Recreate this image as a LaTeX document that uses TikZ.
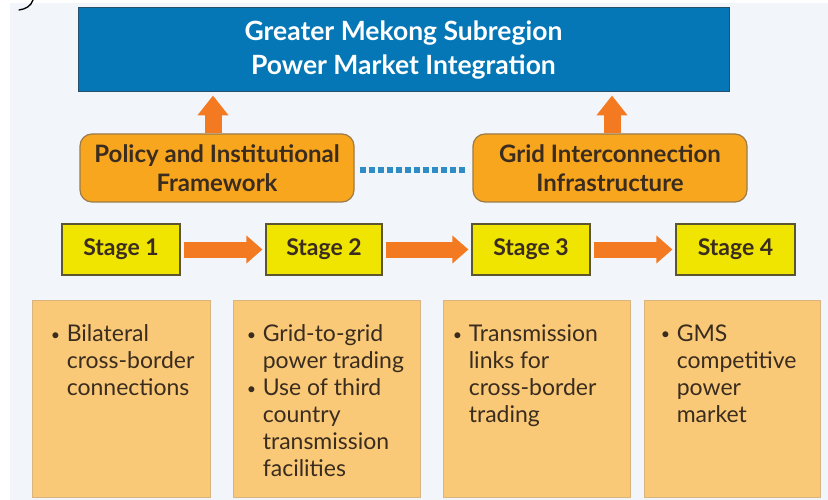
\documentclass[tikz,border=0pt]{standalone}
\usepackage{fontspec}
\setmainfont{Lato}
\usetikzlibrary{arrows.meta}
\definecolor{bgc}{HTML}{F2F6FB}
\definecolor{titleblue}{HTML}{0677B6}
\definecolor{titleedge}{HTML}{24506E}
\definecolor{pillfill}{HTML}{F8A61E}
\definecolor{pilledge}{HTML}{9A7A48}
\definecolor{stagefill}{HTML}{F0E500}
\definecolor{stageedge}{HTML}{5B5530}
\definecolor{arroworange}{HTML}{F47A22}
\definecolor{notefill}{HTML}{F9C978}
\definecolor{noteedge}{HTML}{D9B47E}
\definecolor{dotblue}{HTML}{2F8CC4}
\definecolor{darktext}{HTML}{3A2C1E}
\newcommand\bfirst[1]{\makebox[16pt][l]{\raisebox{1.5pt}{\fontsize{16}{16}\selectfont\textbullet}}#1}
\newcommand\bnext[1]{\hspace*{16pt}#1}
\begin{document}
\begin{tikzpicture}[x=1pt,y=-1pt,
  titlebox/.style={draw=titleedge, line width=1pt, fill=titleblue, minimum width=651pt, minimum height=84pt, inner sep=0pt,
    text=white, align=center, font=\fontsize{26.5}{34}\selectfont\bfseries},
  pillbox/.style={draw=pilledge, line width=1.2pt, fill=pillfill, rounded corners=12pt, minimum width=274pt, minimum height=68pt,
    inner sep=0pt, text=darktext, align=center, font=\fontsize{24}{29}\selectfont\bfseries},
  stagebox/.style={draw=stageedge, line width=1.2pt, fill=stagefill, minimum height=51pt, inner sep=0pt,
    text=darktext, font=\fontsize{23}{26}\selectfont\bfseries},
  notebox/.style={draw=noteedge, line width=0.8pt, fill=notefill, minimum height=197pt, inner sep=0pt},
  notetext/.style={anchor=north west, inner sep=0pt, align=left, text=darktext, font=\fontsize{23}{27}\selectfont},
  uparrow/.style={draw=arroworange, line width=17pt, -{Triangle[width=30pt,length=20pt]}, shorten >=3pt},
  rightarrow/.style={draw=arroworange, line width=16pt, -{Triangle[width=27pt,length=16pt]}, shorten >=3pt, shorten <=3pt},
  linkline/.style={draw=dotblue, line width=6pt, dash pattern=on 6pt off 3pt}
]
\useasboundingbox (0,0) rectangle (828,500);
\fill[white] (0,0) rectangle (828,500);
\fill[bgc] (10,3) rectangle (828,500);
\draw[line width=1.3pt, line cap=round] (33,0) .. controls (31,6) and (26,9) .. (19,10);

\node[titlebox] (title) at (403.5,50) {Greater Mekong Subregion\\Power Market Integration};

\node[pillbox] (policy) at (217,168) {Policy and Institutional\\Framework};
\node[pillbox] (grid) at (610,168) {Grid Interconnection\\Infrastructure};

\node[stagebox, minimum width=118pt] (s1) at (121,249.5) {Stage 1};
\node[stagebox, minimum width=116pt] (s2) at (324,249.5) {Stage 2};
\node[stagebox, minimum width=118pt] (s3) at (531,249.5) {Stage 3};
\node[stagebox, minimum width=119pt] (s4) at (735.5,249.5) {Stage 4};

\node[notebox, minimum width=178pt] (b1) at (121,398.5) {};
\node[notebox, minimum width=187pt] (b2) at (326.5,398.5) {};
\node[notebox, minimum width=187pt] (b3) at (536.5,398.5) {};
\node[notebox, minimum width=176pt] (b4) at (732,398.5) {};

\node[notetext] (t1) at ([xshift=19pt,yshift=-25pt]b1.north west) {\bfirst{Bilateral}\\\bnext{cross-border}\\\bnext{connections}};
\node[notetext] (t2) at ([xshift=14pt,yshift=-25pt]b2.north west) {\bfirst{Grid-to-grid}\\\bnext{power trading}\\\bfirst{Use of third}\\\bnext{country}\\\bnext{transmission}\\\bnext{facilities}};
\node[notetext] (t3) at ([xshift=10pt,yshift=-25pt]b3.north west) {\bfirst{Transmission}\\\bnext{links for}\\\bnext{cross-border}\\\bnext{trading}};
\node[notetext] (t4) at ([xshift=17pt,yshift=-25pt]b4.north west) {\bfirst{GMS}\\\bnext{competitive}\\\bnext{power}\\\bnext{market}};

\draw[uparrow] ([xshift=-4pt]policy.north) -- ([xshift=-4pt]policy.north |- title.south);
\draw[uparrow] ([xshift=2pt]grid.north) -- ([xshift=2pt]grid.north |- title.south);

\draw[linkline] ([xshift=5pt,yshift=-2pt]policy.east) -- ([xshift=-5pt,yshift=-2pt]grid.west);

\draw[rightarrow] (s1) -- (s2);
\draw[rightarrow] (s2) -- (s3);
\draw[rightarrow] (s3) -- (s4);
\end{tikzpicture}
\end{document}
